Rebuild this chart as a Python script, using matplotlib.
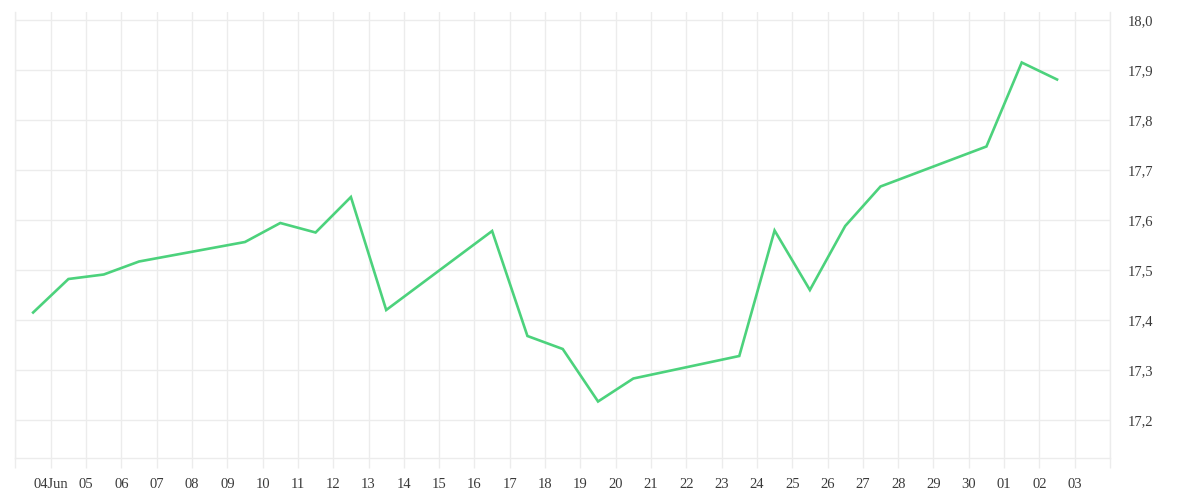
import matplotlib
matplotlib.use("Agg")
import matplotlib.pyplot as plt
import matplotlib.dates as mdates
import matplotlib.ticker as mticker
import numpy as np
import pandas as pd

# daily closes (points sit at midday of each date)
dates = ["2024-06-03", "2024-06-04", "2024-06-05", "2024-06-06",
         "2024-06-09", "2024-06-10", "2024-06-11", "2024-06-12", "2024-06-13",
         "2024-06-16", "2024-06-17", "2024-06-18", "2024-06-19", "2024-06-20",
         "2024-06-23", "2024-06-24", "2024-06-25", "2024-06-26", "2024-06-27",
         "2024-06-30", "2024-07-01", "2024-07-02"]
values = [17.415, 17.482, 17.491, 17.517,
          17.556, 17.594, 17.575, 17.646, 17.420,
          17.578, 17.368, 17.342, 17.237, 17.283,
          17.328, 17.579, 17.460, 17.588, 17.667,
          17.747, 17.915, 17.881]

tick_days = pd.date_range("2024-06-03", "2024-07-04", freq="D")
tick_labels = ["", "04Jun", "05", "06", "07", "08", "09", "10", "11", "12", "13",
               "14", "15", "16", "17", "18", "19", "20", "21", "22", "23", "24",
               "25", "26", "27", "28", "29", "30", "01", "02", "03", ""]
y_ticks = [17.2, 17.3, 17.4, 17.5, 17.6, 17.7, 17.8, 17.9, 18.0]

grid_col = "#ececec"
font = ["Liberation Serif", "DejaVu Serif"]
plt.rcParams["font.family"] = font

fig = plt.figure(figsize=(12, 5), dpi=100)
ax = fig.add_axes([0.0129, 0.084, 0.925 - 0.0129, 0.976 - 0.084])

x = pd.to_datetime(dates) + pd.Timedelta(hours=12)
ax.plot(x, values, color="#4cd27c", lw=1.9, solid_joinstyle="miter", zorder=3)

ax.set_xlim(tick_days[0], tick_days[-1])
ax.set_ylim(17.124, 18.016)

ax.set_xticks(tick_days)
ax.set_xticklabels(tick_labels)
ax.set_yticks(y_ticks)
ax.yaxis.set_major_formatter(mticker.FuncFormatter(lambda v, p: f"{v:.1f}".replace(".", ",")))
ax.yaxis.tick_right()

ax.grid(True, color=grid_col, lw=1)
ax.set_axisbelow(True)
for s in ["left", "right", "bottom"]:
    ax.spines[s].set_color(grid_col)
    ax.spines[s].set_linewidth(1)
ax.spines["top"].set_visible(False)

ax.tick_params(axis="x", length=7.5, width=1, color=grid_col, pad=7,
               labelsize=10.5, labelcolor="#3a3a3a")
ax.tick_params(axis="y", length=0, pad=12.5, labelsize=10.5, labelcolor="#3a3a3a")

fig.savefig("out.png", dpi=100, facecolor="white")
